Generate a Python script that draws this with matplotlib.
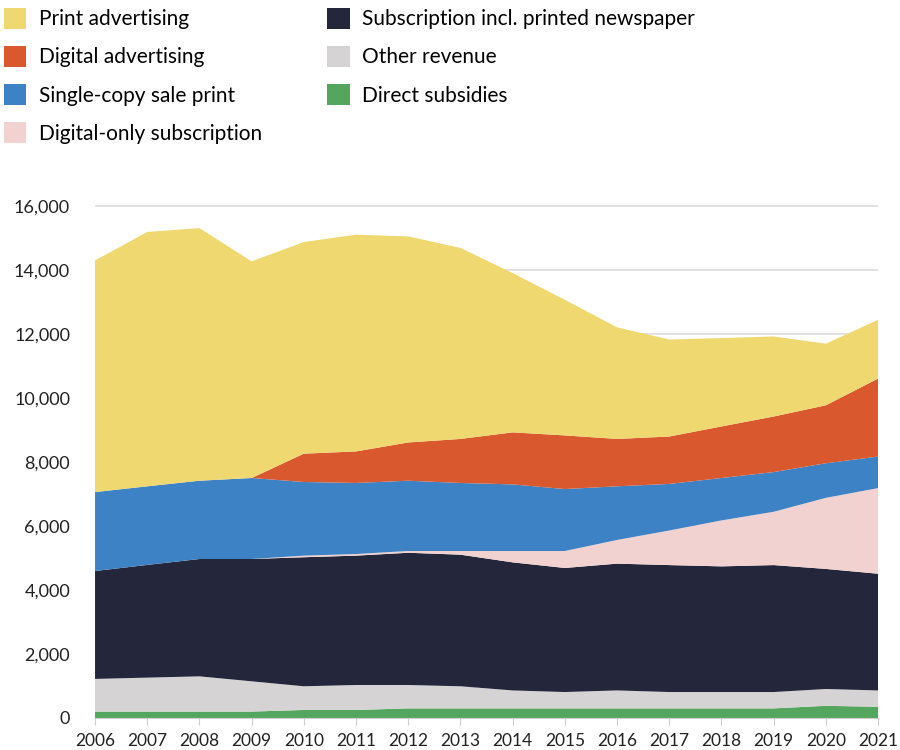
import matplotlib.pyplot as plt
from matplotlib.patches import Patch
from matplotlib.ticker import FuncFormatter

plt.rcParams['font.family'] = ['Lato', 'DejaVu Sans']

years = list(range(2006, 2022))

# revenue by source
direct_subsidies = [200, 200, 200, 200, 250, 250, 300, 300, 300, 300, 300, 300, 300, 300, 380, 350]
other_revenue = [1020, 1060, 1100, 945, 740, 780, 730, 690, 560, 510, 560, 510, 510, 510, 525, 510]
subscription_print = [3370, 3520, 3665, 3820, 4030, 4040, 4130, 4110, 4000, 3875, 3960, 3965, 3925, 3965, 3750, 3645]
digital_only_sub = [0, 0, 0, 0, 50, 50, 55, 115, 355, 530, 740, 1080, 1435, 1665, 2220, 2675]
single_copy = [2465, 2455, 2445, 2530, 2300, 2220, 2195, 2125, 2080, 1935, 1675, 1455, 1325, 1240, 1080, 985]
digital_adv = [0, 0, 0, 0, 885, 985, 1195, 1375, 1625, 1675, 1480, 1480, 1610, 1735, 1810, 2435]
print_adv = [7235, 7945, 7890, 6765, 6610, 6770, 6435, 5965, 4975, 4235, 3485, 3030, 2760, 2500, 1925, 1835]

labels = ["Direct subsidies", "Other revenue", "Subscription incl. printed newspaper",
          "Digital-only subscription", "Single-copy sale print", "Digital advertising",
          "Print advertising"]
colors = ["#54A65E", "#D5D3D4", "#24263B", "#F2D2D0", "#3D82C4", "#D9582E", "#EED86F"]

fig = plt.figure(figsize=(9, 7.5), dpi=100)
ax = fig.add_axes([0.1056, 0.0427, 0.8700, 0.6916])

ax.stackplot(years, direct_subsidies, other_revenue, subscription_print, digital_only_sub,
             single_copy, digital_adv, print_adv, colors=colors, linewidth=0)

ax.set_xlim(2006, 2021)
ax.set_ylim(0, 16200)
ax.set_yticks(range(0, 16001, 2000))
ax.yaxis.set_major_formatter(FuncFormatter(lambda v, p: f"{int(v):,}"))
ax.set_xticks(years)
ax.grid(axis='y', color='#dddddd', linewidth=1.2)
ax.set_axisbelow(True)
for s in ['left', 'right', 'top']:
    ax.spines[s].set_visible(False)
ax.spines['bottom'].set_color('#cccccc')
ax.tick_params(axis='y', length=0, pad=18, labelsize=13, labelcolor='#222222')
ax.tick_params(axis='x', length=5, color='#cccccc', pad=6, labelsize=12.5, labelcolor='#222222')

# legend in two blocks, placed like the original
leg_kw = dict(loc='upper left', frameon=False, fontsize=15, handlelength=1.1, handleheight=1.15,
              handletextpad=0.6, labelspacing=0.8, borderpad=0, borderaxespad=0)
col1 = [Patch(facecolor=colors[i], label=labels[i]) for i in [6, 5, 4, 3]]
col2 = [Patch(facecolor=colors[i], label=labels[i]) for i in [2, 1, 0]]
fig.legend(handles=col1, bbox_to_anchor=(3.5 / 900, 1 - 8 / 750), **leg_kw)
fig.legend(handles=col2, bbox_to_anchor=(327 / 900, 1 - 8 / 750), **leg_kw)

fig.savefig("out.png", dpi=100)
